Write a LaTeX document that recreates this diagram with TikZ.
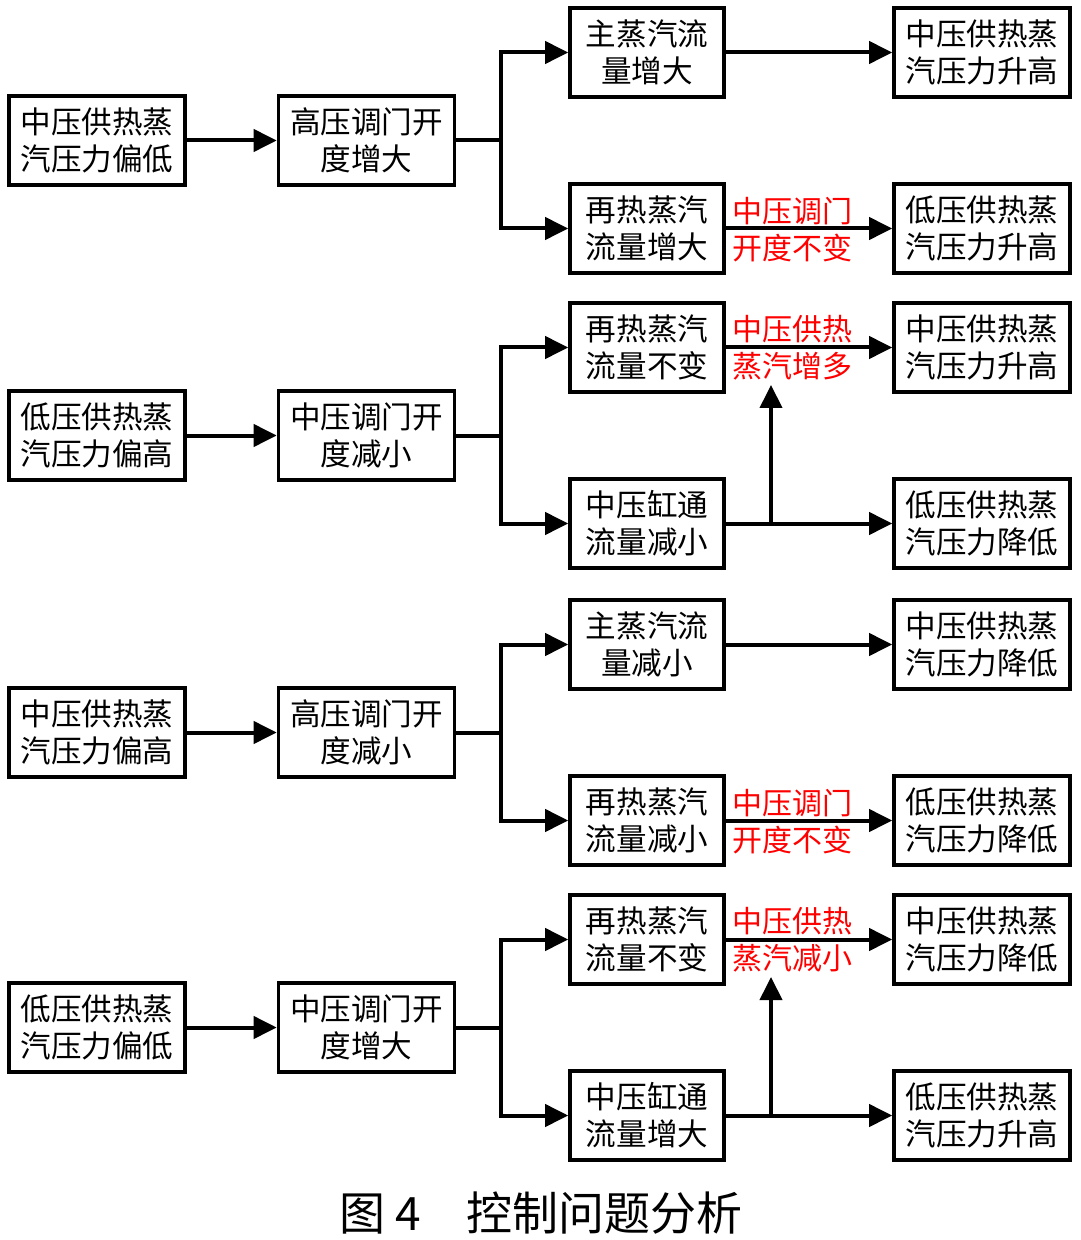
\documentclass[tikz,border=0pt]{standalone}
\usepackage{fontspec}
\setmainfont{Noto Sans CJK SC}
\usetikzlibrary{arrows.meta}
\begin{document}
\begin{tikzpicture}[x=0.5pt,y=-0.5pt,
  box/.style={draw, line width=1.8pt, align=center, inner sep=0pt, minimum height=44.5pt, font=\fontsize{15.3}{18.5}\selectfont},
  wA/.style={box, minimum width=88pt},
  wC/.style={box, minimum width=77pt},
  arr/.style={line width=2pt, -{Triangle[length=11.5pt,width=11pt]}},
  ln/.style={line width=2pt},
  redlab/.style={text=red, inner sep=0pt, font=\fontsize{15}{18}\selectfont},
  captext/.style={inner sep=0pt, font=\fontsize{23}{27}\selectfont}
]
\useasboundingbox (0,0) rectangle (1080,1240);

% ---------- Group 1 ----------
\node[wA] (a1) at (97,140.5) {中压供热蒸\\汽压力偏低};
\node[wA] (b1) at (366.5,140.5) {高压调门开\\度增大};
\node[wC] (c1t) at (647,52.5) {主蒸汽流\\量增大};
\node[wC] (c1b) at (647,228.5) {再热蒸汽\\流量增大};
\node[wA] (d1t) at (982,52.5) {中压供热蒸\\汽压力升高};
\node[wA] (d1b) at (982,228.5) {低压供热蒸\\汽压力升高};
\coordinate (j1) at (501,140.5);
\draw[arr] (a1) -- (b1);
\draw[ln] (b1) -- (j1);
\draw[arr] (j1) |- (c1t);
\draw[arr] (j1) |- (c1b);
\draw[arr] (c1t) -- (d1t);
\draw[arr] (c1b) -- (d1b);
\node[redlab] (r1a) at (792,211) {中压调门};
\node[redlab] (r1b) at (792,248) {开度不变};

% ---------- Group 2 ----------
\node[wA] (a2) at (97,435.5) {低压供热蒸\\汽压力偏高};
\node[wA] (b2) at (366.5,435.5) {中压调门开\\度减小};
\node[wC] (c2t) at (647,347.5) {再热蒸汽\\流量不变};
\node[wC] (c2b) at (647,523.5) {中压缸通\\流量减小};
\node[wA] (d2t) at (982,347.5) {中压供热蒸\\汽压力升高};
\node[wA] (d2b) at (982,523.5) {低压供热蒸\\汽压力降低};
\coordinate (j2) at (501,435.5);
\coordinate (k2) at (771,523.5);
\coordinate (t2) at (771,385);
\draw[arr] (a2) -- (b2);
\draw[ln] (b2) -- (j2);
\draw[arr] (j2) |- (c2t);
\draw[arr] (j2) |- (c2b);
\draw[arr] (c2t) -- (d2t);
\draw[arr] (c2b) -- (d2b);
\draw[arr] (k2) -- (t2);
\node[redlab] (r2a) at (792,329.5) {中压供热};
\node[redlab] (r2b) at (792,366) {蒸汽增多};

% ---------- Group 3 ----------
\node[wA] (a3) at (97,732.5) {中压供热蒸\\汽压力偏高};
\node[wA] (b3) at (366.5,732.5) {高压调门开\\度减小};
\node[wC] (c3t) at (647,644.5) {主蒸汽流\\量减小};
\node[wC] (c3b) at (647,820.5) {再热蒸汽\\流量减小};
\node[wA] (d3t) at (982,644.5) {中压供热蒸\\汽压力降低};
\node[wA] (d3b) at (982,820.5) {低压供热蒸\\汽压力降低};
\coordinate (j3) at (501,732.5);
\draw[arr] (a3) -- (b3);
\draw[ln] (b3) -- (j3);
\draw[arr] (j3) |- (c3t);
\draw[arr] (j3) |- (c3b);
\draw[arr] (c3t) -- (d3t);
\draw[arr] (c3b) -- (d3b);
\node[redlab] (r3a) at (792,803) {中压调门};
\node[redlab] (r3b) at (792,840) {开度不变};

% ---------- Group 4 ----------
\node[wA] (a4) at (97,1027.5) {低压供热蒸\\汽压力偏低};
\node[wA] (b4) at (366.5,1027.5) {中压调门开\\度增大};
\node[wC] (c4t) at (647,939.5) {再热蒸汽\\流量不变};
\node[wC] (c4b) at (647,1115.5) {中压缸通\\流量增大};
\node[wA] (d4t) at (982,939.5) {中压供热蒸\\汽压力降低};
\node[wA] (d4b) at (982,1115.5) {低压供热蒸\\汽压力升高};
\coordinate (j4) at (501,1027.5);
\coordinate (k4) at (771,1115.5);
\coordinate (t4) at (771,977);
\draw[arr] (a4) -- (b4);
\draw[ln] (b4) -- (j4);
\draw[arr] (j4) |- (c4t);
\draw[arr] (j4) |- (c4b);
\draw[arr] (c4t) -- (d4t);
\draw[arr] (c4b) -- (d4b);
\draw[arr] (k4) -- (t4);
\node[redlab] (r4a) at (792,921.5) {中压供热};
\node[redlab] (r4b) at (792,958) {蒸汽减小};

% ---------- Caption ----------
\node[captext] (caption) at (541,1213) {图~4\hspace{1em}控制问题分析};
\end{tikzpicture}
\end{document}
